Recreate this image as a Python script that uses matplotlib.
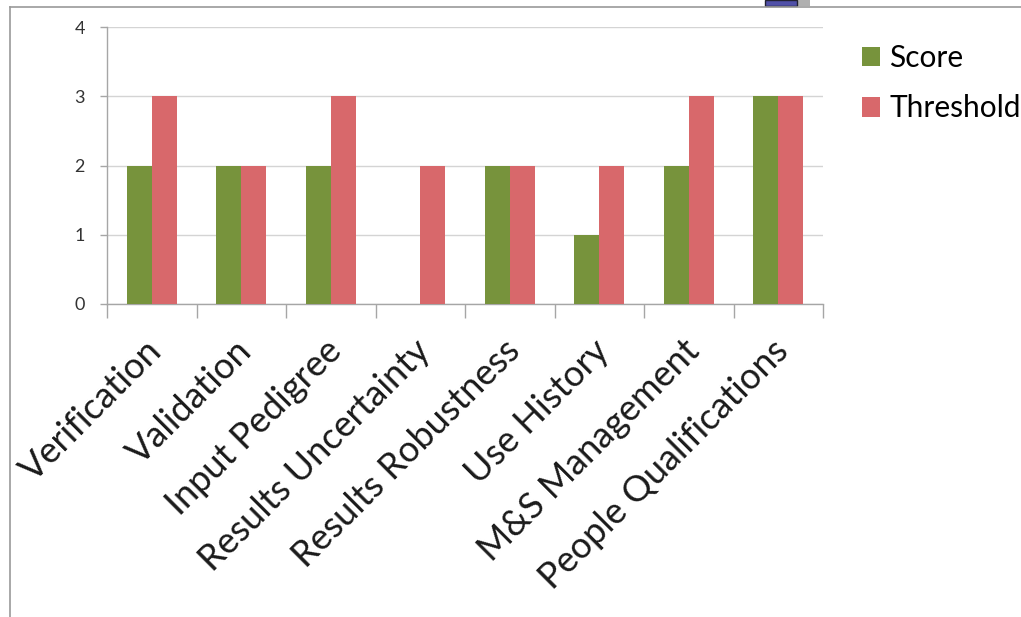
import matplotlib
matplotlib.use("Agg")
import matplotlib.pyplot as plt
import numpy as np
from matplotlib.transforms import ScaledTranslation
from matplotlib.patches import Rectangle
from matplotlib.lines import Line2D

categories = ["Verification", "Validation", "Input Pedigree", "Results Uncertainty",
              "Results Robustness", "Use History", "M&S Management", "People Qualifications"]
score = [2, 2, 2, 0, 2, 1, 2, 3]
threshold = [3, 2, 3, 2, 2, 2, 3, 3]
yticks = [0, 1, 2, 3, 4]

green = "#77933C"
red = "#D8686B"
grid_c = "#D4D4D4"
axis_c = "#A6A6A6"

plt.rcParams['font.family'] = ['Lato', 'DejaVu Sans']

fig = plt.figure(figsize=(10.21, 6.17), dpi=100)
W, H = 1021, 617
ax = fig.add_axes([107 / W, 1 - 304 / H, (823 - 107) / W, (304 - 27) / H])

x = np.arange(len(categories))
bw = 0.28
ax.bar(x - bw / 2, score, width=bw, color=green, label="Score", zorder=3)
ax.bar(x + bw / 2, threshold, width=bw, color=red, label="Threshold", zorder=3)

ax.set_xlim(-0.5, len(categories) - 0.5)
ax.set_ylim(0, 4)
ax.set_yticks(yticks)
ax.set_yticklabels([str(v) for v in yticks], fontsize=13, color="#333333")
ax.yaxis.grid(True, color=grid_c, linewidth=1, zorder=0)
ax.set_axisbelow(True)

ax.set_xticks(x)
ax.set_xticklabels(categories, rotation=45, ha="right", va="center",
                   rotation_mode="anchor", fontsize=26, color="#1a1a1a")
ax.set_xticks(np.arange(len(categories) + 1) - 0.5, minor=True)
ax.tick_params(axis="x", which="major", length=0, pad=30)
ax.tick_params(axis="x", which="minor", length=10, color=axis_c, width=1)
ax.tick_params(axis="y", length=5, color=axis_c, width=1, pad=11)
for lab in ax.get_xticklabels():
    lab.set_transform(lab.get_transform() + ScaledTranslation(5 / 100, 0, fig.dpi_scale_trans))

for s in ["top", "right"]:
    ax.spines[s].set_visible(False)
for s in ["left", "bottom"]:
    ax.spines[s].set_color(axis_c)
    ax.spines[s].set_linewidth(1)

leg = fig.legend(loc="upper left", bbox_to_anchor=(850 / W, 1 - 32 / H), frameon=False,
                 fontsize=21.5, handlelength=0.62, handleheight=0.62, handletextpad=0.3,
                 labelspacing=0.75, borderaxespad=0)

# frame border lines
fig.add_artist(Line2D([10 / W, 1], [1 - 7 / H, 1 - 7 / H], transform=fig.transFigure,
                      color="#9a9a9a", linewidth=1.2))
fig.add_artist(Line2D([10 / W, 10 / W], [0, 1 - 7 / H], transform=fig.transFigure,
                      color="#9a9a9a", linewidth=1.2))
# small icon at top
fig.add_artist(Rectangle((797 / W, 1 - 6 / H), 13 / W, 6 / H, transform=fig.transFigure,
                         facecolor="#b0b0b0", edgecolor="none"))
fig.add_artist(Rectangle((765 / W, 1 - 6 / H), 32 / W, 6 / H, transform=fig.transFigure,
                         facecolor="#5050A8", edgecolor="#222233", linewidth=1))

fig.savefig("out.png", dpi=100)
